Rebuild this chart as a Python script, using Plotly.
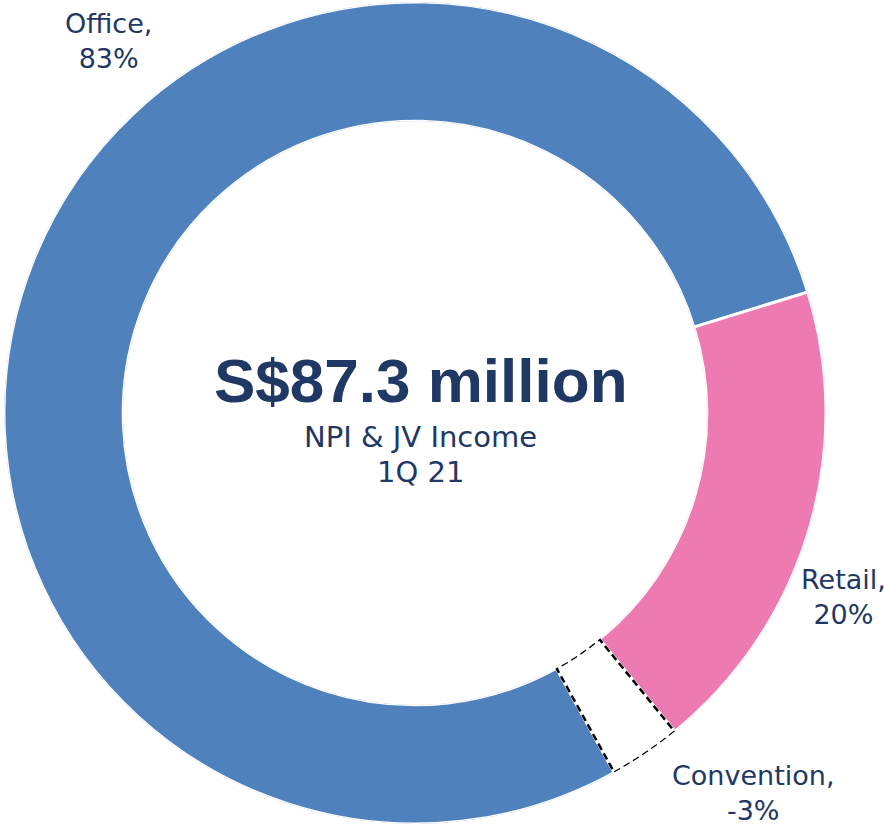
import plotly.graph_objects as go
import numpy as np

# ---- data ----
segments = ["Office", "Retail", "Convention"]
shares = [83, 20, 3]            # magnitude drawn on the ring
share_labels = ["83%", "20%", "-3%"]
fill_colors = ["#4F81BD", "#EE7AB2", "#FFFFFF"]
center_title = "S$87.3 million"
center_sub1 = "NPI & JV Income"
center_sub2 = "1Q 21"

start_angle = 151.0   # where the first slice starts, degrees clockwise from 12 o'clock
total = float(sum(shares))
widths = [v / total * 360.0 for v in shares]
starts = []
acc = start_angle
for w in widths:
    starts.append(acc)
    acc += w
centers = [s + w / 2 for s, w in zip(starts, widths)]

W, H = 885, 826
cx, cy, R = 415, 413, 411

fig = go.Figure()
for name, c, w, col in zip(segments, centers, widths, fill_colors):
    fig.add_trace(go.Barpolar(
        r=[1], theta=[c], width=[w], base=0,
        marker=dict(color=col, line=dict(color="white", width=3)),
        name=name, hoverinfo="skip", showlegend=False,
    ))

# dashed outline for the negative (Convention) slice
i = segments.index("Convention")
a0, a1 = starts[i], starts[i] + widths[i]
arc = np.linspace(a0, a1, 30)
th = list(arc) + list(arc[::-1]) + [a0]
rr = [1] * len(arc) + [0] * len(arc) + [1]
fig.add_trace(go.Scatterpolar(
    r=rr, theta=th, mode="lines",
    line=dict(color="black", width=2.5, dash="7px,4px"),
    hoverinfo="skip", showlegend=False,
))

fig.update_layout(
    width=W, height=H,
    margin=dict(l=0, r=0, t=0, b=0),
    paper_bgcolor="white", plot_bgcolor="white",
    showlegend=False,
    polar=dict(
        domain=dict(x=[(cx - R) / W, (cx + R) / W], y=[(H - cy - R) / H, (H - cy + R) / H]),
        hole=0.71,
        bgcolor="white",
        radialaxis=dict(range=[0, 1], visible=False, showgrid=False),
        angularaxis=dict(direction="clockwise", rotation=90, visible=False, showgrid=False),
        barmode="overlay",
    ),
)

navy = "#1F3864"
label_font = dict(family="DejaVu Sans", size=27, color=navy)
label_pos = {"Office": (108, 41), "Retail": (843, 597), "Convention": (753, 793)}
for name, pct in zip(segments, share_labels):
    x, y = label_pos[name]
    fig.add_annotation(
        x=x / W, y=1 - y / H, xref="paper", yref="paper",
        text=f"{name},<br>{pct}", showarrow=False,
        xanchor="center", yanchor="middle", align="center",
        font=label_font,
    )

fig.add_annotation(x=421 / W, y=1 - 380 / H, xref="paper", yref="paper",
                   text=f"<b>{center_title}</b>", showarrow=False,
                   xanchor="center", yanchor="middle",
                   font=dict(family="Liberation Sans", size=62, color=navy))
fig.add_annotation(x=420 / W, y=1 - 437 / H, xref="paper", yref="paper",
                   text=center_sub1, showarrow=False,
                   xanchor="center", yanchor="middle",
                   font=dict(family="DejaVu Sans", size=29, color=navy))
fig.add_annotation(x=420 / W, y=1 - 472 / H, xref="paper", yref="paper",
                   text=center_sub2, showarrow=False,
                   xanchor="center", yanchor="middle",
                   font=dict(family="DejaVu Sans", size=29, color=navy))

fig.write_html("out.html", config={"displayModeBar": False},
               post_script="document.body.style.margin='0';document.body.style.overflow='hidden';")
